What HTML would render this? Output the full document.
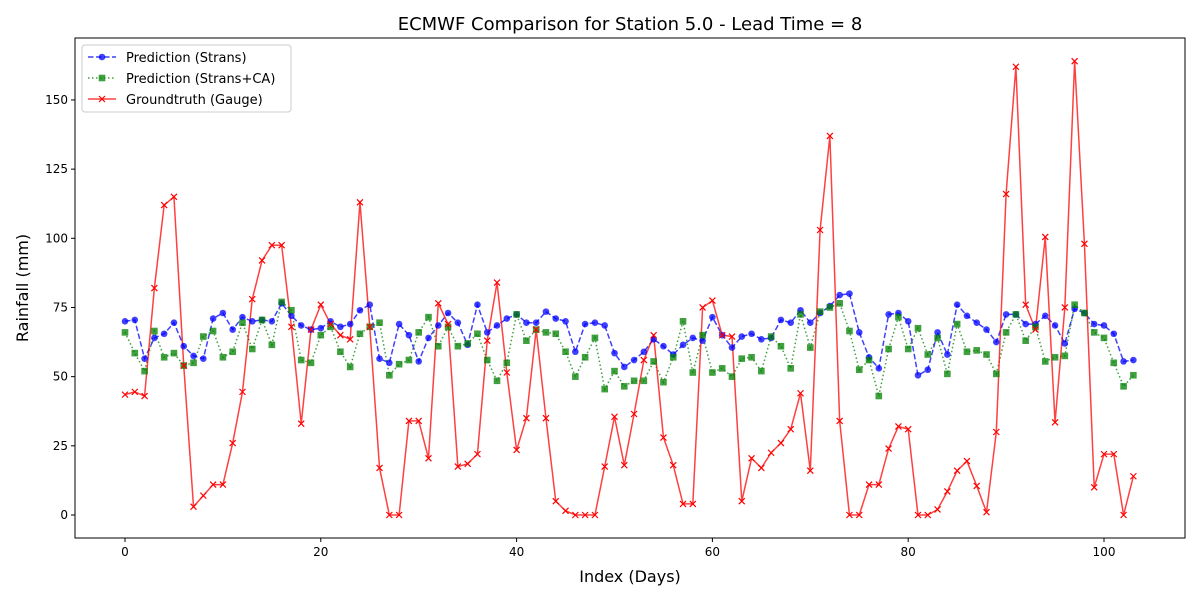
<!DOCTYPE html>
<html><head><meta charset="utf-8"><style>
body{margin:0;background:#fff;font-family:"Liberation Sans","DejaVu Sans",sans-serif}
svg text{font-family:"DejaVu Sans","Liberation Sans",sans-serif}
</style></head><body>
<svg id="chart" width="1200" height="600" xmlns="http://www.w3.org/2000/svg">
<rect width="1200" height="600" fill="#fff"/>
<text x="630" y="30" text-anchor="middle" font-size="18">ECMWF Comparison for Station 5.0 - Lead Time = 8</text>
<g id="axes"></g>
<g id="series"></g>
<text x="630" y="582" text-anchor="middle" font-size="16">Index (Days)</text>
<text transform="translate(28,288) rotate(-90)" text-anchor="middle" font-size="16">Rainfall (mm)</text>
<g>
<rect x="82" y="45" width="209" height="67" fill="#fff" stroke="#ccc" rx="3"/>
<line x1="88" y1="57" x2="116" y2="57" stroke="#0000ff" stroke-opacity="0.75" stroke-width="1.5" stroke-dasharray="5.5,2.5"/>
<circle cx="102" cy="57" r="3.3" fill="#0000ff" fill-opacity="0.75"/>
<text x="126" y="62" font-size="13">Prediction (Strans)</text>
<line x1="88" y1="78" x2="116" y2="78" stroke="#008000" stroke-opacity="0.75" stroke-width="1.5" stroke-dasharray="1.5,2.5"/>
<rect x="98.7" y="74.7" width="6.6" height="6.6" fill="#008000" fill-opacity="0.75"/>
<text x="126" y="83" font-size="13">Prediction (Strans+CA)</text>
<line x1="88" y1="99" x2="116" y2="99" stroke="#ff0000" stroke-opacity="0.75" stroke-width="1.5"/>
<path d="M99,96 l6,6 M105,96 l-6,6" stroke="#ff0000" stroke-width="1.2"/>
<text x="126" y="104" font-size="13">Groundtruth (Gauge)</text>
</g>
</svg>
<script>
const strans=[70,70.5,56.5,64,65.5,69.5,61,57.5,56.5,71,73,67,71.5,70,70.5,70,76.5,72,68.5,67,67.5,70,68,69,74,76,56.5,55,69,65,55.5,64,68.5,73,69.5,61.5,76,66,68.5,71,72.5,69.5,69.5,73.5,71,70,59,69,69.5,68.5,58.5,53.5,56,59,63.5,61,58,61.5,64,63,71.5,65,60.5,64.5,65.5,63.5,64,70.5,69.5,74,69.5,73,75.5,79.5,80,66,57,53,72.5,73,70,50.5,52.5,66,58,76,72,69.5,67,62.5,72.5,72.5,69,69,72,68.5,62,74.5,73,69,68.5,65.5,55.5,56];
const stransCA=[66,58.5,52,66.5,57,58.5,54,55,64.5,66.5,57,59,69.5,60,70.5,61.5,77,74,56,55,65,68,59,53.5,65.5,68,69.5,50.5,54.5,56,66,71.5,61,68,61,62,65.5,56,48.5,55,72.5,63,67,66,65.5,59,50,57,64,45.5,52,46.5,48.5,48.5,55.5,48,57,70,51.5,65,51.5,53,50,56.5,57,52,64.5,61,53,72.5,60.5,73.5,75,76.5,66.5,52.5,56,43,60,71.5,60,67.5,58,64,51,69,59,59.5,58,51,66,72.5,63,68,55.5,57,57.5,76,73,66,64,55,46.5,50.5];
const gauge=[43.5,44.5,43,82,112,115,54,3,7,11,11,26,44.5,78,92,97.5,97.5,68,33,67,76,69,65,63.5,113,68,17,0,0,34,34,20.5,76.5,69,17.5,18.5,22,63,84,51.5,23.5,35,67,35,5,1.5,0,0,0,17.5,35.5,18,36.5,56,65,28,18,4,4,75,77.5,65,64.5,5,20.5,17,22.5,26,31,44,16,103,137,34,0,0,11,11,24,32,31,0,0,2,8.5,16,19.5,10.5,1,30,116,162,76,67,100.5,33.5,75,164,98,10,22,22,0,14];
const xTicks=[0,20,40,60,80,100];
const yTicks=[0,25,50,75,100,125,150];
const L=75,R=1185,T=38,B=538;
const X=v=>125+v*9.79;
const Y=v=>515-v*2.767;
const NS="http://www.w3.org/2000/svg";
function mk(tag,attrs,parent){const e=document.createElementNS(NS,tag);for(const k in attrs)e.setAttribute(k,attrs[k]);parent.appendChild(e);return e;}
const ax=document.getElementById('axes');
const frame=mk('rect',{x:L,y:T,width:R-L,height:B-T,fill:'none',stroke:'#000','stroke-width':1},ax);


xTicks.forEach(t=>{
  mk('line',{x1:X(t),x2:X(t),y1:B,y2:B+4,stroke:'#000'},ax);
  const tx=mk('text',{x:X(t),y:B+18,'text-anchor':'middle','font-size':12},ax);
  tx.textContent=t;
  
  
});
yTicks.forEach(t=>{
  mk('line',{x1:L-4,x2:L,y1:Y(t),y2:Y(t),stroke:'#000'},ax);
  const tx=mk('text',{x:L-7,y:Y(t)+4,'text-anchor':'end','font-size':12},ax);
  tx.textContent=t;
  
  
});
const sg=document.getElementById('series');
function line(data,color,dash,name){
  const pts=data.map((v,i)=>X(i)+','+Y(v)).join(' ');
  const p=mk('polyline',{points:pts,fill:'none',stroke:color,'stroke-opacity':0.75,'stroke-width':1.5,'stroke-dasharray':dash},sg);
  
  
}
line(strans,'#0000ff','5.5,2.5','strans-line');
line(stransCA,'#008000','1.5,2.5','strans-ca-line');
line(gauge,'#ff0000','none','gauge-line');
strans.forEach((v,i)=>{
  const c=mk('circle',{cx:X(i),cy:Y(v),r:3.3,fill:'#0000ff','fill-opacity':0.75},sg);
  
  
});
stransCA.forEach((v,i)=>{
  const r=mk('rect',{x:X(i)-3.3,y:Y(v)-3.3,width:6.6,height:6.6,fill:'#008000','fill-opacity':0.75},sg);
  
  
});
gauge.forEach((v,i)=>{
  const x=X(i),y=Y(v);
  const p=mk('path',{d:`M${x-3},${y-3}L${x+3},${y+3}M${x+3},${y-3}L${x-3},${y+3}`,stroke:'#ff0000','stroke-width':1.2},sg);
  
  
});
</script>
</body></html>
